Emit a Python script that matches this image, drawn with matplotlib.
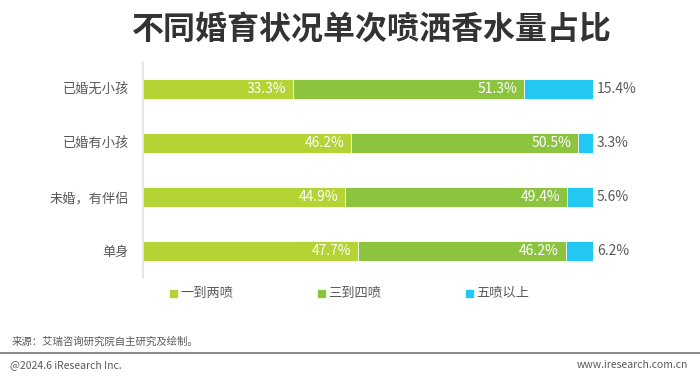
import matplotlib.pyplot as plt
from matplotlib.patches import Rectangle

plt.rcParams["font.family"] = ["Noto Sans CJK SC", "DejaVu Sans"]

categories = ["已婚无小孩", "已婚有小孩", "未婚，有伴侣", "单身"]
series_names = ["一到两喷", "三到四喷", "五喷以上"]
one_two = [33.3, 46.2, 44.9, 47.7]
three_four = [51.3, 50.5, 49.4, 46.2]
five_plus = [15.4, 3.3, 5.6, 6.2]

colors = ["#B4D334", "#8CC43F", "#22C8F2"]
grey = "#595959"

fig = plt.figure(figsize=(7.0, 3.77), dpi=100)
ax = fig.add_axes([143 / 700, 1 - 278 / 377, 450 / 700, 216 / 377])

y = list(range(len(categories)))
left = [0.0] * len(categories)
for vals, color in zip([one_two, three_four], colors[:2]):
    ax.barh(y, vals, left=left, height=0.36, color=color,
            edgecolor="white", linewidth=0.6)
    for yi, l, v in zip(y, left, vals):
        ax.text(l + v - 1.5, yi, f"{v}%", ha="right", va="center",
                color="white", fontsize=10)
    left = [l + v for l, v in zip(left, vals)]

# last segment fills to the end of the bar
rest = [100 - l for l in left]
ax.barh(y, rest, left=left, height=0.36, color=colors[2],
        edgecolor="white", linewidth=0.6)
for yi, v in zip(y, five_plus):
    ax.text(100.9, yi, f"{v}%", ha="left", va="center",
            color=grey, fontsize=10)

ax.set_xlim(0, 100)
ax.set_ylim(3.5, -0.5)
ax.set_yticks(y)
ax.set_yticklabels(categories, fontsize=9.5, color=grey)
ax.tick_params(axis="y", length=0, pad=10)
ax.set_xticks([])
for side in ["top", "right", "bottom"]:
    ax.spines[side].set_visible(False)
ax.spines["left"].set_color("#E3E3E3")
ax.spines["left"].set_linewidth(1.2)

# legend
for x0, name, color in zip([170, 318, 466], series_names, colors):
    fig.patches.append(Rectangle((x0 / 700, 1 - 296.5 / 377), 7 / 700, 7 / 377,
                                 transform=fig.transFigure, color=color))
    fig.text((x0 + 10) / 700, 1 - 293 / 377, name, ha="left", va="center",
             fontsize=9.5, color=grey)

fig.text(372 / 700, 1 - 30 / 377, "不同婚育状况单次喷洒香水量占比",
         ha="center", va="center", fontsize=23, fontweight="bold", color="#333333")

fig.text(12 / 700, 1 - 342 / 377, "来源：艾瑞咨询研究院自主研究及绘制。",
         ha="left", va="center", fontsize=7.5, color=grey)
fig.add_artist(plt.Line2D([0, 1], [1 - 352.5 / 377] * 2, transform=fig.transFigure,
                          color="#808080", linewidth=1.3))
fig.text(10 / 700, 1 - 365 / 377, "@2024.6 iResearch Inc.",
         ha="left", va="center", fontsize=7.5, color=grey)
fig.text(688 / 700, 1 - 365 / 377, "www.iresearch.com.cn",
         ha="right", va="center", fontsize=7.5, color=grey)

fig.savefig("out.png", dpi=100)
